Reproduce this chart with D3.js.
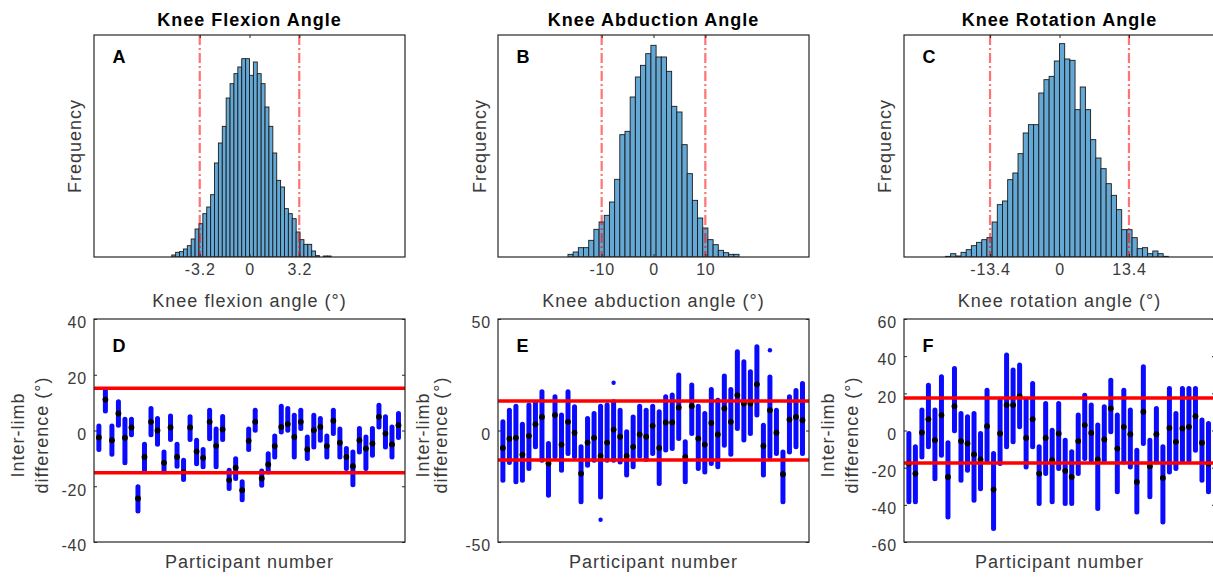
<!DOCTYPE html>
<html>
<head>
<meta charset="utf-8">
<script src="https://cdn.jsdelivr.net/npm/d3@7"></script>
<style>
body { margin: 0; background: #fff; }
text { font-family: "Liberation Sans", Arial, sans-serif; }
</style>
</head>
<body>
<div id="chart"></div>
<script>
// ---- histogram data (frequency, arbitrary units) ----
var flexionBinStart = -5, flexionBinWidth = 0.25;
var flexionCounts = [6, 14, 16, 24, 34, 54, 84, 100, 130, 150, 187, 282, 342, 392, 477, 520, 550, 570, 595, 595,
  545, 585, 550, 520, 450, 392, 312, 230, 210, 145, 130, 115, 75, 52, 38, 38, 18, 4, 0, 3, 3];

var abductionBinStart = -16.5, abductionBinWidth = 1;
var abductionCounts = [8, 15, 28, 28, 50, 83, 105, 125, 165, 233, 367, 377, 480, 540, 575, 610, 635,
  600, 600, 557, 452, 435, 337, 250, 170, 117, 87, 52, 37, 20, 13, 8, 8];

var rotationBinStart = -22, rotationBinWidth = 1;
var rotationCounts = [2, 10, 3, 14, 22, 34, 44, 52, 58, 105, 157, 168, 232, 252, 310, 372, 397, 397, 492, 532,
  542, 588, 640, 594, 590, 442, 510, 442, 352, 297, 265, 220, 185, 142, 82, 82, 58, 25, 28, 10, 18, 10, 2];

var histLimits = [3.2, 10, 13.4];
var histTicks = [[-3.2, 0, 3.2], [-10, 0, 10], [-13.4, 0, 13.4]];
var histDomains = [[-10, 10], [-30, 30], [-30, 30]];
var histYMax = 666;

// ---- inter-limb differences per participant (mean, min, max in degrees) ----
var flexionMean = [-2.5, 11.1, -3.5, 6.1, -2.6, 1.1, -24.4, -9.5, 3.1, 0, -11.6, 1.1, -9.5, -14.9, 1.1, -7.5,
  -9.8, 3.1, -5.5, 0.4, -17.8, -13.3, -21.4, -3.7, 3.1, -17.2, -12.2, -5.6, 1.3, 2.3, -2.3, 3.1, -6.8, 0.1,
  1.3, -5.6, 3.5, -4.4, -9.5, -12.8, -3.5, -6.5, -4.7, 4.9, -1.1, -5, 1.9];
var flexionMin = [-6.8, 7, -8.5, 1.9, -11.6, -1.5, -28.9, -14.3, -1.5, -4.9, -14.8, -3.2, -12.8, -17.6, -3.2,
  -11.9, -13, -3, -13, -3.2, -20.8, -17.2, -24.8, -6.8, 0.1, -19.6, -14.9, -9.5, -0.5, 0.1, -9.5, 0.7, -10,
  -5.9, -3.5, -9.5, -1.1, -9.5, -13.6, -19.5, -7.7, -13.6, -8.9, 1.3, -5.9, -9.5, -2.5];
var flexionMax = [1.6, 14.7, 1.6, 10.3, 4, 4, -20.2, -4.9, 7.9, 4.3, -7.7, 5.2, -4.9, -10.7, 4.9, -3.5, -6.8,
  7.3, 0.5, 5, -14.3, -10.1, -18.4, 0.5, 7.3, -14.5, -8.3, -2, 8.7, 7.9, 5.5, 7.3, -2.3, 5.5, 4.3, -2, 7.3,
  0.5, -6.5, -7.7, 0.7, -2.3, 0.7, 9.1, 4.9, 1.3, 6.1];

var abductionMean = [-7.8, -3.7, -3.3, -10.8, -2.4, 2.8, 6.1, -14.8, 6.9, -6.3, 3.9, -1.0, -19.3, -5.4, -3.3,
  -11.4, -5.4, 0.4, -2.8, -11.4, -7.3, -1.8, -2.8, 2.1, -7.8, 3.6, 3.6, 10.3, -11.8, 10.9, -3.6, -6.3, 3.4,
  -1.8, 9.9, 3.9, 15.9, 12.1, 12.1, 20.7, -6.9, 9.1, -1.0, -19.6, 4.9, 6.1, 4.6];
var abductionMin = [-22.3, -14.4, -23, -22.3, -17, -7.3, -13.3, -29, -11.8, -17.8, -10.3, -11.8, -32, -15.6,
  -13.3, -29.8, -13.3, -13.3, -14.1, -20, -16.3, -11.5, -13, -10.3, -23.8, -8.8, -8.1, -3.6, -23, -1.3, -17,
  -18.6, -14.8, -16.3, -6.6, -10.6, 0.9, -4.3, -1.3, 6.9, -20, -11.8, -10.3, -32, -9.6, -7.3, -10.3];
var abductionMax = [3.9, 9.1, 10.9, 2.8, 11.4, 12.4, 17.4, -5.8, 15.1, 6.9, 17.4, 10.6, -7.3, 5.4, 7.6, 10.9,
  11.4, 12.9, 9.1, -0.6, 6.1, 10.9, 9.1, 10.9, 8.4, 15.1, 15.9, 24.9, -5.1, 20.4, 10.9, 7.6, 18.4, 13.6, 24.4,
  18.4, 35.3, 30.8, 26.3, 37.6, 2.4, 24, 9.1, -9.6, 15.1, 17.9, 21.1];
// isolated points outside the dense columns: [participant, value]
var abductionOutliers = [[16, -40], [18, 21.4], [42, 36]];

var rotationMean = [-17.8, -23.2, -1.1, 6.1, -5.2, 8.3, -25, 13.1, -5.7, -7, -12.9, -15.6, 2.3, -31.8, -1.6,
  13.7, 13.7, 18.5, -4, 6.1, -23.2, -4, -16, -1.6, -21.7, -25, -5.7, 2.9, -1.3, -15.6, -4.8, 11.9, -9.7, 2, -2,
  -27.7, 10.1, -19.2, -2, -25.5, 1.4, -6.1, 1.1, 2, 7.7, -6.6, -17.8];
var rotationMin = [-38.4, -38.4, -14.2, -8.8, -25.9, -13.3, -46.5, -0.1, -26.8, -21.4, -37.5, -31.3, -16,
  -52.8, -17.8, -8.8, -6.1, 2, -19.6, -8.8, -39.3, -23.2, -38.4, -20.5, -39.3, -39.3, -23.2, -15.1, -16, -42,
  -16, -0.7, -33, -16.9, -19.6, -43.8, -7, -35.7, -16.9, -49.2, -22.3, -20.5, -16, -16, -10.6, -26.8, -33];
var rotationMax = [-1.6, -8.8, 11, 24.4, 11, 28.9, -6.6, 33.4, 9.2, 7.4, 9.2, -1.6, 21.7, -12.4, 16.3, 40.6,
  32.5, 35.2, 16.3, 25.3, -8.8, 14.5, 0.2, 14.5, -5.2, -11.5, 8.3, 19, 13.7, 2.9, 12.8, 27.1, 8.3, 21.7, 11,
  -10.6, 34.3, -5.2, 11.9, -8.8, 22.6, 9.2, 22.6, 22.6, 22.6, 5.6, 3.8];

var diffLimits = [15.2, 13.2, 17.5];
var diffDomains = [[-40, 40], [-50, 50], [-60, 60]];
var diffTicks = [[-40, -20, 0, 20, 40], [-50, 0, 50], [-60, -40, -20, 0, 20, 40, 60]];

var titles = ["Knee Flexion Angle", "Knee Abduction Angle", "Knee Rotation Angle"];
var xLabels = ["Knee flexion angle (\u00b0)", "Knee abduction angle (\u00b0)", "Knee rotation angle (\u00b0)"];
var topLetters = ["A", "B", "C"];
var bottomLetters = ["D", "E", "F"];

// ---- layout ----
var width = 1213, height = 581;
var colLeft = [94, 498, 904];
var boxWidth = 311;
var histTop = 35, histBottom = 257;
var diffTop = 319, diffBottom = 542;
var freqLabelX = [81, 486, 891];
var diffLabelX = [[24, 48], [429, 447], [834, 858]];
var boxColor = "#262626";
var textColor = "#3a3a3a";

var histograms = [
  {start: flexionBinStart, w: flexionBinWidth, counts: flexionCounts},
  {start: abductionBinStart, w: abductionBinWidth, counts: abductionCounts},
  {start: rotationBinStart, w: rotationBinWidth, counts: rotationCounts}
];
var differences = [
  {mean: flexionMean, min: flexionMin, max: flexionMax, outliers: []},
  {mean: abductionMean, min: abductionMin, max: abductionMax, outliers: abductionOutliers},
  {mean: rotationMean, min: rotationMin, max: rotationMax, outliers: []}
];

var svg = d3.select("#chart").append("svg")
    .attr("width", width)
    .attr("height", height);

function styleTicks(g, size) {
  g.select(".domain").remove();
  g.selectAll(".tick line").attr("stroke", boxColor).attr("stroke-width", 1);
  g.selectAll(".tick text")
    .attr("fill", textColor)
    .style("font-family", '"Liberation Sans", Arial, sans-serif')
    .style("font-size", size + "px")
    .style("letter-spacing", "0.8px");
}

function label(x, y, str, opts) {
  var t = svg.append("text")
      .attr("x", x)
      .attr("y", y)
      .attr("text-anchor", opts.anchor || "middle")
      .attr("fill", opts.color || textColor)
      .style("font-size", (opts.size || 18) + "px")
      .style("font-weight", opts.bold ? "bold" : "normal")
      .style("letter-spacing", (opts.spacing == null ? 1 : opts.spacing) + "px")
      .text(str);
  if (opts.rotate) {
    t.attr("x", 0).attr("y", 0)
      .attr("transform", "translate(" + x + "," + y + ") rotate(-90)");
  }
  return t;
}

// ---- top row: histograms ----
histograms.forEach(function(h, i) {
  var left = colLeft[i];
  var clipId = "clipTop" + i;
  svg.append("clipPath").attr("id", clipId).append("rect")
    .attr("x", left).attr("y", histTop).attr("width", boxWidth).attr("height", histBottom - histTop);

  var x = d3.scaleLinear().domain(histDomains[i]).range([left, left + boxWidth]);
  var y = d3.scaleLinear().domain([0, histYMax]).range([histBottom, histTop]);

  var g = svg.append("g").attr("clip-path", "url(#" + clipId + ")");

  g.selectAll("rect.bar")
    .data(h.counts)
    .enter()
    .append("rect")
    .attr("class", "bar")
    .attr("x", function(d, k) { return x(h.start + k * h.w); })
    .attr("width", function() { return x(h.start + h.w) - x(h.start); })
    .attr("y", function(d) { return y(d); })
    .attr("height", function(d) { return histBottom - y(d); })
    .attr("fill", "#64a8d6")
    .attr("stroke", "#1a1a1a")
    .attr("stroke-width", 0.9);

  g.selectAll("line.limit")
    .data([-histLimits[i], histLimits[i]])
    .enter()
    .append("line")
    .attr("class", "limit")
    .attr("x1", function(d) { return x(d); })
    .attr("x2", function(d) { return x(d); })
    .attr("y1", histTop)
    .attr("y2", histBottom)
    .attr("stroke", "#ff0000")
    .attr("stroke-opacity", 0.55)
    .attr("stroke-width", 2.2)
    .attr("stroke-dasharray", "10,3,2,3");

  var bottomAxis = d3.axisBottom(x).tickValues(histTicks[i])
    .tickSizeInner(-3).tickSizeOuter(0).tickPadding(7)
    .tickFormat(function(d) { return String(d); });
  svg.append("g").attr("transform", "translate(0," + histBottom + ")")
    .call(bottomAxis).call(styleTicks, 16);

  var topAxis = d3.axisTop(x).tickValues(histTicks[i])
    .tickSizeInner(-3).tickSizeOuter(0).tickFormat("");
  svg.append("g").attr("transform", "translate(0," + histTop + ")")
    .call(topAxis).call(styleTicks, 16);

  svg.append("rect")
    .attr("x", left).attr("y", histTop)
    .attr("width", boxWidth).attr("height", histBottom - histTop)
    .attr("fill", "none").attr("stroke", boxColor).attr("stroke-width", 1.2);

  label(left + boxWidth / 2, 26, titles[i], {size: 18, bold: true, color: "#000"});
  label(left + 18.5, histTop + 28, topLetters[i], {size: 18, bold: true, color: "#000", anchor: "start", spacing: 0});
  label(left + boxWidth / 2, 307, xLabels[i], {size: 18});
  label(freqLabelX[i], (histTop + histBottom) / 2, "Frequency", {size: 18, rotate: true});
});

// ---- bottom row: inter-limb differences ----
differences.forEach(function(p, i) {
  var left = colLeft[i];
  var clipId = "clipBottom" + i;
  svg.append("clipPath").attr("id", clipId).append("rect")
    .attr("x", left).attr("y", diffTop).attr("width", boxWidth).attr("height", diffBottom - diffTop);

  var x = d3.scaleLinear().domain([0.25, 48]).range([left, left + boxWidth]);
  var y = d3.scaleLinear().domain(diffDomains[i]).range([diffBottom, diffTop]);

  var g = svg.append("g").attr("clip-path", "url(#" + clipId + ")");

  g.selectAll("line.spread")
    .data(p.mean)
    .enter()
    .append("line")
    .attr("class", "spread")
    .attr("x1", function(d, k) { return x(k + 1); })
    .attr("x2", function(d, k) { return x(k + 1); })
    .attr("y1", function(d, k) { return y(p.min[k]); })
    .attr("y2", function(d, k) { return y(p.max[k]); })
    .attr("stroke", "#0a0aff")
    .attr("stroke-width", 5)
    .attr("stroke-linecap", "round");

  g.selectAll("circle.outlier")
    .data(p.outliers)
    .enter()
    .append("circle")
    .attr("class", "outlier")
    .attr("cx", function(d) { return x(d[0]); })
    .attr("cy", function(d) { return y(d[1]); })
    .attr("r", 2.2)
    .attr("fill", "#0a0aff");

  g.selectAll("circle.mean")
    .data(p.mean)
    .enter()
    .append("circle")
    .attr("class", "mean")
    .attr("cx", function(d, k) { return x(k + 1); })
    .attr("cy", function(d) { return y(d); })
    .attr("r", 2.9)
    .attr("fill", "#000");

  g.selectAll("line.limit")
    .data([-diffLimits[i], diffLimits[i]])
    .enter()
    .append("line")
    .attr("class", "limit")
    .attr("x1", left)
    .attr("x2", left + boxWidth)
    .attr("y1", function(d) { return y(d); })
    .attr("y2", function(d) { return y(d); })
    .attr("stroke", "#ff0000")
    .attr("stroke-width", 3.5);

  var leftAxis = d3.axisLeft(y).tickValues(diffTicks[i])
    .tickSizeInner(-3).tickSizeOuter(0).tickPadding(7)
    .tickFormat(function(d) { return String(d); });
  svg.append("g").attr("transform", "translate(" + left + ",0)")
    .call(leftAxis).call(styleTicks, 16)
    .selectAll(".tick text").attr("dy", "0.55em");

  var rightAxis = d3.axisRight(y).tickValues(diffTicks[i])
    .tickSizeInner(-3).tickSizeOuter(0).tickFormat("");
  svg.append("g").attr("transform", "translate(" + (left + boxWidth) + ",0)")
    .call(rightAxis).call(styleTicks, 16);

  svg.append("rect")
    .attr("x", left).attr("y", diffTop)
    .attr("width", boxWidth).attr("height", diffBottom - diffTop)
    .attr("fill", "none").attr("stroke", boxColor).attr("stroke-width", 1.2);

  label(left + 18.5, diffTop + 33, bottomLetters[i], {size: 18, bold: true, color: "#000", anchor: "start", spacing: 0});
  label(left + boxWidth / 2, 568, "Participant number", {size: 18});
  label(diffLabelX[i][0], 435, "Inter-limb", {size: 18, rotate: true});
  label(diffLabelX[i][1], 435, "difference (\u00b0)", {size: 18, rotate: true});
});
</script>
</body>
</html>
